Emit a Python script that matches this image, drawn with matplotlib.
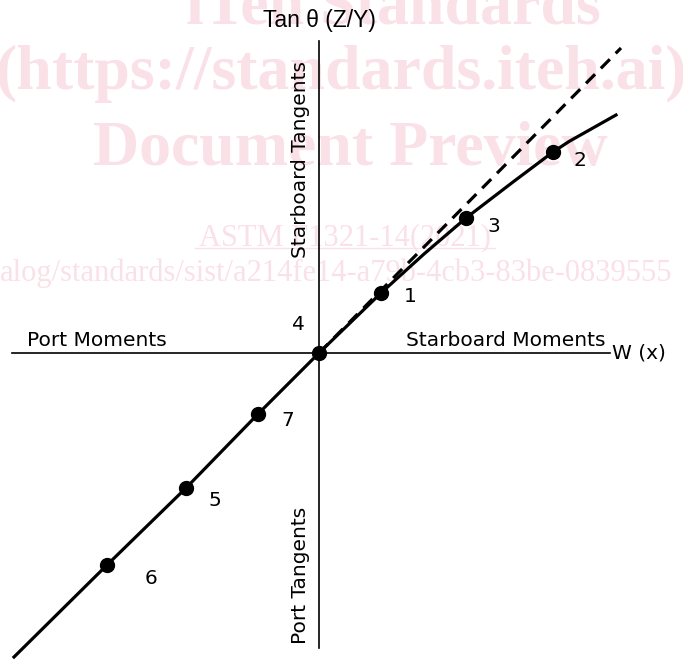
import matplotlib
matplotlib.use("Agg")
import matplotlib.pyplot as plt

# Data (units: arbitrary, origin at the crossing of the axes)
point_labels = ["6", "5", "7", "4", "1", "3", "2"]
point_x = [-2.12, -1.33, -0.61, 0.00, 0.62, 1.47, 2.34]
point_y = [-2.12, -1.35, -0.61, 0.00, 0.60, 1.35, 2.01]

curve_x = [-3.05, -2.12, -1.33, -0.61, 0.00, 0.62, 1.05, 1.47, 1.94, 2.34, 2.50, 2.97]
curve_y = [-3.04, -2.12, -1.35, -0.61, 0.00, 0.60, 0.99, 1.35, 1.71, 2.01, 2.115, 2.38]

dashed_x = [0.00, 3.02]
dashed_y = [0.00, 3.05]

axis_h_x = [-3.07, 2.91]
axis_v_y = [-2.95, 3.12]

label_dx = [0.44, 0.29, 0.30, -0.21, 0.29, 0.28, 0.27]
label_dy = [-0.13, -0.12, -0.06, 0.28, -0.04, -0.09, -0.09]

pink = "#fae1e8"

fig = plt.figure(figsize=(6.83, 6.60), dpi=100)
ax = fig.add_axes([0, 0, 1, 1])
ax.set_xlim(-3.19, 3.64)
ax.set_ylim(-3.07, 3.53)
ax.axis("off")

# watermark
wm = dict(family="Liberation Serif", weight="bold", color=pink, ha="center", va="center", zorder=0)
ax.text(0.74, 3.45, "iTeh Standards", fontsize=46, **wm)
ax.text(0.22, 2.79, "(https://standards.iteh.ai)", fontsize=46, **wm)
ax.text(0.31, 2.03, "Document Preview", fontsize=46, **wm)
ax.text(0.26, 1.15, "ASTM F1321-14(2021)", fontsize=22, family="Liberation Serif",
        color=pink, ha="center", va="center", zorder=0)
ax.plot([-1.24, 1.76], [1.05, 1.05], color=pink, lw=1, zorder=0)
ax.text(-3.19, 0.80, "alog/standards/sist/a214fe14-a79b-4cb3-83be-0839555", fontsize=22,
        family="Liberation Serif", color=pink, ha="left", va="center", zorder=0)

# axes lines
ax.plot(axis_h_x, [0, 0], color="black", lw=1.2, zorder=2)
ax.plot([0, 0], axis_v_y, color="black", lw=1.2, zorder=2)

# dashed line and curve
ax.plot(dashed_x, dashed_y, color="black", lw=2.3, dashes=(4, 2.6), zorder=3)
ax.plot(curve_x, curve_y, color="black", lw=2.3, solid_joinstyle="round", zorder=3)
ax.plot(point_x, point_y, "o", color="black", ms=10, zorder=4)

lab = dict(family="DejaVu Sans", fontsize=14.5, color="black", zorder=5)
for t, x, y, dx, dy in zip(point_labels, point_x, point_y, label_dx, label_dy):
    ax.text(x + dx, y + dy, t, ha="center", va="center", **lab)

ax.text(-2.92, 0.13, "Port Moments", ha="left", va="center", **lab)
ax.text(2.86, 0.13, "Starboard Moments", ha="right", va="center", **lab)
ax.text(2.93, 0.0, "W (x)", ha="left", va="center", **lab)
ax.text(-0.18, 1.94, "Starboard Tangents", ha="center", va="center", rotation=90, **lab)
ax.text(-0.18, -2.22, "Port Tangents", ha="center", va="center", rotation=90, **lab)
ax.text(0.0, 3.33, "Tan θ (Z/Y)", ha="center", va="center", family="Liberation Sans",
        fontsize=16.5, color="black", zorder=5)

fig.savefig("out.png", dpi=100)
